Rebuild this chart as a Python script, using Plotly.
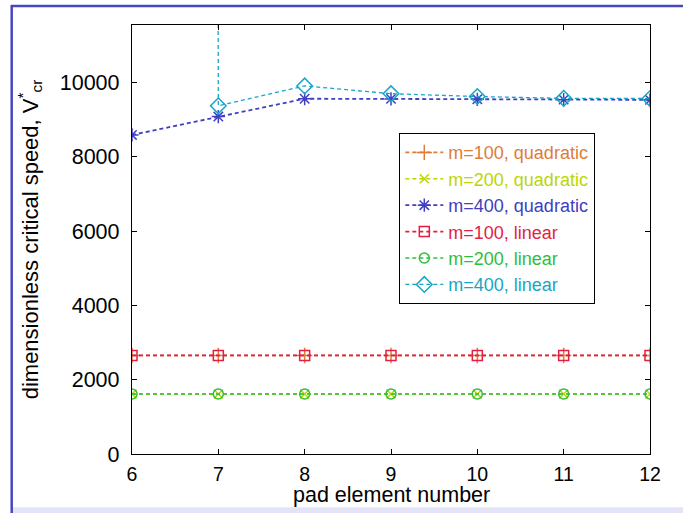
import plotly.graph_objects as go

# pad element counts on the x axis
pad_elements = [6, 7, 8, 9, 10, 11, 12]

# dimensionless critical speed for each mass ratio and interpolation order
v_m100_quadratic = [2650, 2650, 2650, 2650, 2650, 2650, 2650]
v_m200_quadratic = [1615, 1615, 1615, 1615, 1615, 1615, 1615]
v_m400_quadratic = [8590, 9085, 9565, 9560, 9550, 9540, 9535]
v_m100_linear = [2655, 2655, 2655, 2655, 2655, 2655, 2655]
v_m200_linear = [1615, 1615, 1615, 1615, 1615, 1615, 1615]
v_m400_linear = [1.0e6, 9375, 9910, 9700, 9625, 9575, 9570]

y_ticks = [0, 2000, 4000, 6000, 8000, 10000]
y_tick_labels = ["0", "2000", "4000", "6000", "8000", "10000"]

series = [
    ("m=100, quadratic", v_m100_quadratic, "#e07b39", "cross-thin-open", 11, 1.6),
    ("m=200, quadratic", v_m200_quadratic, "#bcd600", "x-thin-open", 9, 1.6),
    ("m=400, quadratic", v_m400_quadratic, "#4040c0", "asterisk-open", 11, 1.8),
    ("m=100, linear", v_m100_linear, "#e31e44", "square-open", 10, 1.6),
    ("m=200, linear", v_m200_linear, "#2fbe3c", "circle-open", 10, 1.6),
    ("m=400, linear", v_m400_linear, "#17a6c8", "diamond-open", 12, 1.3),
]

fig = go.Figure()
for name, values, color, symbol, size, width in series:
    fig.add_trace(go.Scatter(
        x=pad_elements, y=values, mode="lines+markers",
        name=f"<span style='color:{color}'>{name}</span>",
        line=dict(color=color, width=width, dash="4px,3px"),
        marker=dict(symbol=symbol, size=size, color=color,
                    line=dict(color=color, width=1.5)),
        cliponaxis=True,
    ))

W, H = 683, 513
L, R, T, B = 132, 650, 25, 454.3


def px_x(x):
    return (x - L) / (R - L)


def px_y(y):
    return (B - y) / (B - T)


frame_blue = "#4646c0"
shapes = [
    # outer figure frame
    dict(type="rect", xref="paper", yref="paper",
         x0=px_x(11), x1=px_x(W + 5), y0=px_y(H + 5), y1=px_y(507.5),
         fillcolor="#e4e4f8", line=dict(width=0), layer="below"),
    dict(type="line", xref="paper", yref="paper",
         x0=px_x(11), x1=px_x(W + 5), y0=px_y(6), y1=px_y(6),
         line=dict(color=frame_blue, width=2.5)),
    dict(type="line", xref="paper", yref="paper",
         x0=px_x(11.7), x1=px_x(11.7), y0=px_y(5), y1=px_y(H + 5),
         line=dict(color=frame_blue, width=2.5)),
]

axis_common = dict(
    showline=True, linecolor="black", linewidth=1.3, mirror="allticks",
    ticks="inside", ticklen=5, tickcolor="black", tickwidth=1.3,
    showgrid=False, zeroline=False, automargin=False,
)

fig.update_layout(
    width=W, height=H,
    margin=dict(l=L, r=W - R, t=T, b=H - B),
    paper_bgcolor="white", plot_bgcolor="white",
    font=dict(family="Liberation Sans, Arial", size=21, color="black"),
    xaxis=dict(range=[6, 12], tickvals=pad_elements,
               tickfont=dict(size=19.5, color="black"),
               ticklabelstandoff=2, **axis_common),
    yaxis=dict(range=[0, 11550], tickvals=y_ticks, ticktext=y_tick_labels,
               tickfont=dict(size=21.5, color="black"),
               title=dict(text="dimensionless critical speed, V<sup>*</sup><sub>cr</sub>",
                          standoff=15, font=dict(size=22)),
               ticklabelstandoff=7, **axis_common),
    legend=dict(x=px_x(399), y=px_y(133), xanchor="left", yanchor="top",
                bgcolor="white", bordercolor="black", borderwidth=1.3,
                font=dict(size=18), itemwidth=38, tracegroupgap=0),
    annotations=[dict(text="pad element number", xref="paper", yref="paper",
                      x=0.5, y=px_y(495.5), xanchor="center", yanchor="middle",
                      showarrow=False, font=dict(size=21.5, color="black"))],
    shapes=shapes,
    showlegend=True,
)

fig.write_html("out.html")
